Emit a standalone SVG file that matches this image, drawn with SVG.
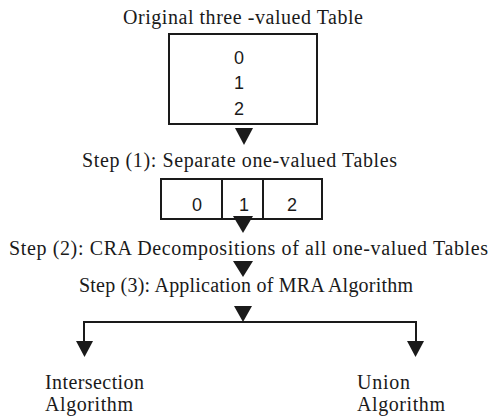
<svg xmlns="http://www.w3.org/2000/svg" width="491" height="420" viewBox="0 0 491 420">
  <style>
    .lbl { font-family: "Liberation Serif", "Times New Roman", serif; font-size: 20px; fill: #1a1a1a; }
    .num { font-family: "Liberation Sans", Arial, sans-serif; font-size: 18px; fill: #1a1a1a; text-anchor: middle; }
    .box { fill: #ffffff; stroke: #1a1a1a; stroke-width: 2; }
    .wire { fill: none; stroke: #1a1a1a; stroke-width: 2; }
    .head { fill: #1a1a1a; }
  </style>
  <rect width="491" height="420" fill="#ffffff"/>

  <g id="original-table">
    <text class="lbl" x="123" y="24" textLength="240" lengthAdjust="spacing">Original three -valued Table</text>
    <rect class="box" x="169" y="34" width="148" height="90"/>
    <text class="num" x="239" y="64">0</text>
    <text class="num" x="239" y="89">1</text>
    <text class="num" x="239" y="115">2</text>
  </g>

  <g id="step1">
    <text class="lbl" x="82" y="167" textLength="315" lengthAdjust="spacing">Step (1): Separate one-valued Tables</text>
    <rect class="box" x="161" y="179" width="161" height="40"/>
    <line class="wire" x1="222" y1="179" x2="222" y2="219"/>
    <line class="wire" x1="263" y1="179" x2="263" y2="219"/>
    <text class="num" x="197" y="211">0</text>
    <text class="num" x="244" y="211">1</text>
    <text class="num" x="292" y="211">2</text>
  </g>

  <g id="step2">
    <text class="lbl" x="9" y="255" textLength="479" lengthAdjust="spacing">Step (2): CRA Decompositions of all one-valued Tables</text>
  </g>

  <g id="step3">
    <text class="lbl" x="79" y="292" textLength="334" lengthAdjust="spacing">Step (3): Application of MRA Algorithm</text>
  </g>

  <g id="intersection">
    <text class="lbl" x="45" y="389" textLength="99" lengthAdjust="spacing">Intersection</text>
    <text class="lbl" x="45" y="411" textLength="88" lengthAdjust="spacing">Algorithm</text>
  </g>

  <g id="union">
    <text class="lbl" x="357" y="389" textLength="53" lengthAdjust="spacing">Union</text>
    <text class="lbl" x="357" y="411" textLength="88" lengthAdjust="spacing">Algorithm</text>
  </g>

  <g id="connectors">
    <polygon class="head" points="235,128 253,128 244,145"/>
    <polygon class="head" points="233,216 253,216 243,233"/>
    <polygon class="head" points="233,261 253,261 243,277"/>
    <polygon class="head" points="234,306 252,306 243,322"/>
    <polyline class="wire" points="84,342 84,322 416,322 416,342"/>
    <polygon class="head" points="76,341 93,341 84.5,357"/>
    <polygon class="head" points="407,341 424,341 415.5,357"/>
  </g>
</svg>
